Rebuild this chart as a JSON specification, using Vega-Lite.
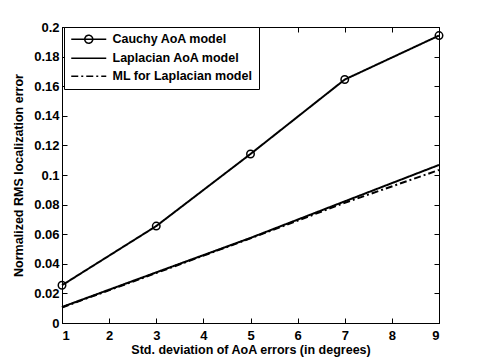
{
  "$schema": "https://vega.github.io/schema/vega-lite/v6.json",
  "width": 377,
  "height": 296,
  "autosize": {"type": "none"},
  "padding": {"left": 62, "top": 27, "right": 46, "bottom": 41},
  "background": "white",
  "config": {
    "font": "Liberation Sans",
    "view": {"stroke": "black", "strokeWidth": 1},
    "axis": {
      "grid": false,
      "domainColor": "black",
      "tickColor": "black",
      "labelColor": "black",
      "titleColor": "black",
      "labelFont": "Liberation Sans",
      "titleFont": "Liberation Sans",
      "labelFontWeight": "bold",
      "titleFontWeight": "bold",
      "labelFontSize": 13,
      "titleFontSize": 12.5,
      "tickSize": -5,
      "domainWidth": 1,
      "tickWidth": 1
    }
  },
  "data": {
    "values": [
      {"series": "Cauchy AoA model", "x": 1, "y": 0.0255},
      {"series": "Cauchy AoA model", "x": 3, "y": 0.0655},
      {"series": "Cauchy AoA model", "x": 5, "y": 0.1142},
      {"series": "Cauchy AoA model", "x": 7, "y": 0.1645},
      {"series": "Cauchy AoA model", "x": 9, "y": 0.1942},
      {"series": "Laplacian AoA model", "x": 1, "y": 0.0108},
      {"series": "Laplacian AoA model", "x": 3, "y": 0.0342},
      {"series": "Laplacian AoA model", "x": 5, "y": 0.0575},
      {"series": "Laplacian AoA model", "x": 7, "y": 0.0822},
      {"series": "Laplacian AoA model", "x": 9, "y": 0.1068},
      {"series": "ML for Laplacian model", "x": 1, "y": 0.0105},
      {"series": "ML for Laplacian model", "x": 3, "y": 0.0338},
      {"series": "ML for Laplacian model", "x": 5, "y": 0.0572},
      {"series": "ML for Laplacian model", "x": 7, "y": 0.0812},
      {"series": "ML for Laplacian model", "x": 9, "y": 0.1034}
    ]
  },
  "layer": [
    {
      "mark": {"type": "line", "color": "black", "strokeWidth": 2},
      "encoding": {
        "x": {
          "field": "x", "type": "quantitative",
          "scale": {"domain": [1, 9], "nice": false, "zero": false},
          "axis": {"values": [1,2,3,4,5,6,7,8,9], "format": "d", "labelPadding": 11, "title": "Std. deviation of AoA errors (in degrees)", "titlePadding": 1}
        },
        "y": {
          "field": "y", "type": "quantitative",
          "scale": {"domain": [0, 0.2], "nice": false},
          "axis": {"values": [0,0.02,0.04,0.06,0.08,0.1,0.12,0.14,0.16,0.18,0.2], "format": "~g", "labelPadding": 8, "title": "Normalized RMS localization error", "titlePadding": 8}
        },
        "detail": {"field": "series"},
        "strokeDash": {
          "field": "series", "type": "nominal",
          "scale": {
            "domain": ["Cauchy AoA model", "Laplacian AoA model", "ML for Laplacian model"],
            "range": [[1, 0], [1, 0], [7, 3, 2, 3]]
          },
          "legend": {
            "title": null,
            "orient": "none",
            "legendX": 2,
            "legendY": 0,
            "padding": 6,
            "strokeColor": "black",
            "fillColor": "white",
            "symbolSize": 100,
            "symbolStrokeWidth": 1.5,
            "symbolStrokeColor": "black",
            "symbolFillColor": "transparent",
            "labelOffset": 30,
            "labelFont": "Liberation Sans",
            "labelFontWeight": "bold",
            "labelFontSize": 12.5,
            "labelColor": "black",
            "rowPadding": 5,
            "encode": {
              "symbols": {
                "update": {
                  "shape": {"signal": "datum.value === 'Cauchy AoA model' ? 'M-1,0H6M3.3,0A0.8,0.8 0 1,1 1.7,0A0.8,0.8 0 1,1 3.3,0' : 'M-1,0H6'"},
                  "fill": {"value": "transparent"},
                  "stroke": {"value": "black"}
                }
              }
            }
          }
        }
      }
    },
    {
      "transform": [{"filter": "datum.series === 'Cauchy AoA model'"}],
      "mark": {"type": "point", "shape": "circle", "filled": false, "color": "black", "size": 56, "strokeWidth": 1.5, "opacity": 1},
      "encoding": {
        "x": {
          "field": "x", "type": "quantitative",
          "scale": {"domain": [1, 9], "nice": false, "zero": false},
          "axis": {"orient": "top", "values": [1,2,3,4,5,6,7,8,9], "labels": false, "title": null}
        },
        "y": {
          "field": "y", "type": "quantitative",
          "scale": {"domain": [0, 0.2], "nice": false},
          "axis": {"orient": "right", "values": [0,0.02,0.04,0.06,0.08,0.1,0.12,0.14,0.16,0.18,0.2], "labels": false, "title": null}
        }
      }
    }
  ],
  "resolve": {"axis": {"x": "independent", "y": "independent"}}
}
